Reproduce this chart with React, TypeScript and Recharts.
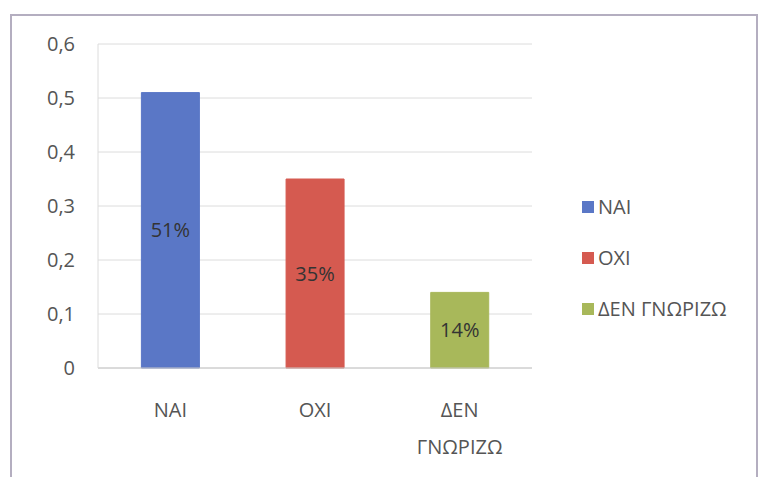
import React from 'react';
import { BarChart, Bar, Cell, XAxis, YAxis, CartesianGrid, LabelList } from 'recharts';

const categories = ['ΝΑΙ', 'ΟΧΙ', 'ΔΕΝ ΓΝΩΡΙΖΩ'];
const shares = [0.51, 0.35, 0.14];
const labels = ['51%', '35%', '14%'];
const colors = ['#5a77c6', '#d55a50', '#a8b85a'];
const yTicks = [0, 0.1, 0.2, 0.3, 0.4, 0.5, 0.6];

const data = categories.map((name, i) => ({ name, value: shares[i], label: labels[i] }));

const FONT = '"Open Sans", "DejaVu Sans", sans-serif';

const XTick = (props: any) => {
    const { x, y, payload } = props;
    const words = String(payload.value).split(' ');
    return (
        <text x={x} y={y} textAnchor="middle" fill="#555" fontSize={20} fontFamily={FONT}>
            {words.map((w: string, i: number) => (
                <tspan key={i} x={x} dy={i === 0 ? 49 : 37}>{w}</tspan>
            ))}
        </text>
    );
};

// legend drawn by hand, placed to the right of the plot
const LegendBox = () => (
    <div style={{ position: 'absolute', left: 582, top: 181, fontFamily: FONT, fontSize: 20, color: '#555' }}>
        {categories.map((c, i) => (
            <div key={c} style={{ display: 'flex', alignItems: 'center', height: 51 }}>
                <span style={{ width: 12, height: 12, background: colors[i], marginRight: 4, display: 'inline-block' }} />
                <span>{c}</span>
            </div>
        ))}
    </div>
);

export default function App() {
    return (
        <div style={{ position: 'absolute', left: 0, top: 0, width: 764, height: 477, overflow: 'hidden', background: '#fff' }}>
            <div style={{ position: 'absolute', left: 10, top: 14, width: 748, height: 480, border: '2px solid #b4aec0', boxSizing: 'border-box' }} />
            <BarChart
                width={764}
                height={477}
                data={data}
                margin={{ top: 44, right: 232, bottom: 0, left: 0 }}
                barCategoryGap="30%"
                style={{ position: 'absolute', left: 0, top: 0 }}
            >
                <CartesianGrid vertical={false} stroke="#dcdcdc" />
                <XAxis
                    dataKey="name"
                    height={109}
                    tick={<XTick />}
                    tickLine={false}
                    axisLine={{ stroke: '#c8c8c8' }}
                    tickSize={0}
                    tickMargin={0}
                    interval={0}
                />
                <YAxis
                    width={98}
                    domain={[0, 0.6]}
                    ticks={yTicks}
                    tickFormatter={(v: number) => String(v).replace('.', ',')}
                    tickLine={false}
                    axisLine={{ stroke: '#dcdcdc' }}
                    tickSize={0}
                    tickMargin={23}
                    tick={{ fill: '#555', fontSize: 20, fontFamily: FONT }}
                />
                <Bar dataKey="value" isAnimationActive={false}>
                    {data.map((d, i) => (
                        <Cell key={d.name} fill={colors[i]} stroke={colors[i]} />
                    ))}
                    <LabelList dataKey="label" position="center" fill="#333" fontSize={20} fontFamily={FONT} />
                </Bar>
            </BarChart>
            <LegendBox />
        </div>
    );
}
